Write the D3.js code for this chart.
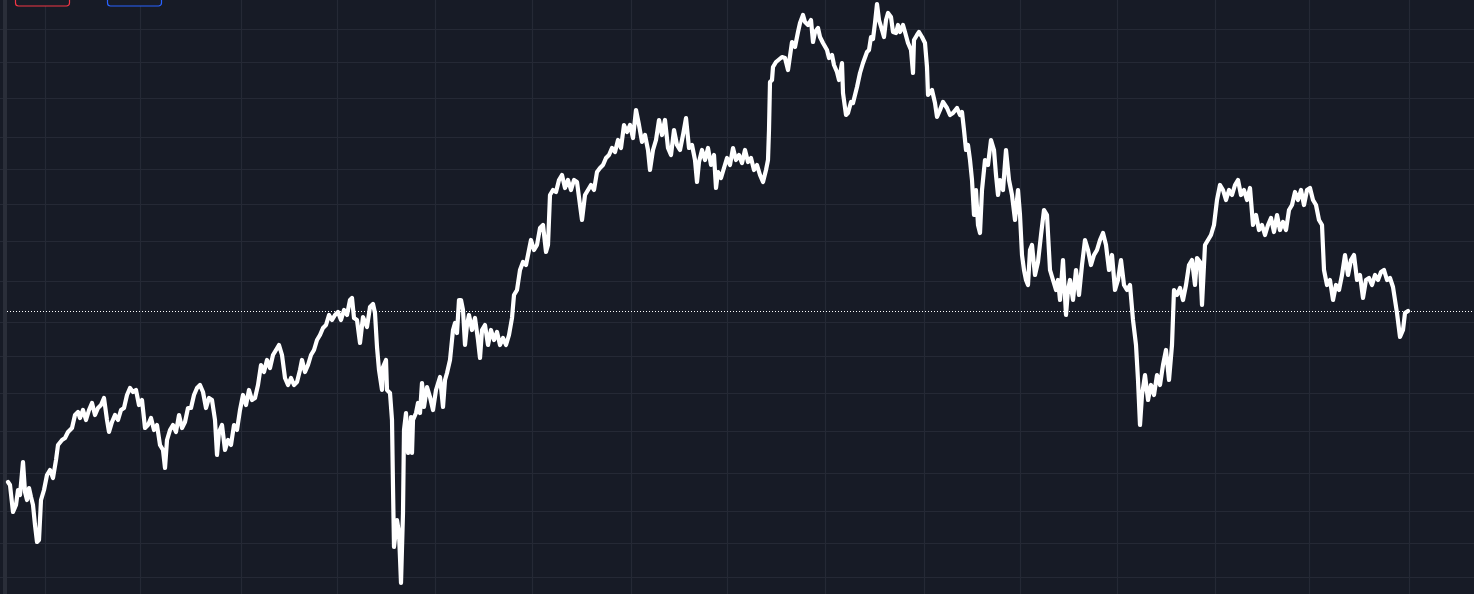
<!DOCTYPE html>
<html>
<head>
<meta charset="utf-8">
<script src="https://cdn.jsdelivr.net/npm/d3@7"></script>
<style>
  html, body { margin: 0; padding: 0; background: #171b26; overflow: hidden; }
  svg { display: block; }
</style>
</head>
<body>
<svg id="chart" width="1474" height="594"></svg>
<script>
// ---- data ----
const days = [
0,1,2.5,4,5,6,7.5,8.5,9.5,10.5,11.5,12.5,13.5,14.5,15.5,16.5,18,19.5,21,22.5,24,25,27,28.5,30,32,33.5,35,36,37.5,39,40.5,42,43.5,45,46.5,48,49.5,50.5,52,53.5,55,56.5,58,59.5,61,62.5,64,65.5,67,68.5,70,71.5,73,74.5,76,77.5,78.5,79.5,81,82.5,84,85.5,87,88.5,90,91.5,93,94.5,96,97.5,99,100.5,102,103.5,104.5,105.5,107,108.5,110,111.5,113,114.5,116,117.5,119,120.5,122,123.5,125,126.5,128,129.5,131,132.5,134,135.5,137,138.5,140,141.5,143,144.5,146,147,148.5,150,151.5,153,154.5,156,157.5,159,160.5,162,163.5,165,166.5,168,169.5,171,172,173,174.5,176,177.5,179.5,181,182.5,183.5,184.5,185.5,187,187.5,189,189.5,191,192,192.5,193,194.5,195.5,196.5,197.5,198,199,200,201.5,202,202.5,204,205,206,207,208,209.5,211,212.5,214,216,217.5,218.5,219.5,221,222.5,223.5,224.5,225.5,226.5,227.5,228.5,229.5,230.5,232,233.5,235,236,237,238.5,240,241.5,243,244.5,246,247.5,249,250.5,252,253,254.5,256,257.5,259,260,261.5,263,264.5,266,267.5,269,270,271,272.5,274,275.5,277,278.5,280,281.5,283,284.5,286,287,288.5,290,291.5,293,294.5,296,297.5,299,300.5,302,303.5,305,306.5,308,309.5,311,312.5,314,315.5,317,318.5,320,321,322.5,324,325.5,327,328.5,330,331.5,333,334.5,336,337.5,339,340.5,342,343.5,344.5,345.5,347,348.5,350,351.5,353,354,355,356.5,358,359.5,361,362.5,364,365.5,367,368.5,370,371.5,373,374.5,376,377.5,379,380,380.5,381,382,382.5,384,387,388.5,390,392,393.5,395,396,397.5,398.5,400,401.5,402.5,403.5,405,406,407.5,409.5,410.5,412,413,414.5,415.5,417,417.5,419,420,421.5,422.5,424.5,426,427.5,429.5,430.5,431.5,432.5,433.5,434.5,435.5,437,438,439,440,441.5,442.5,444,445,446,447.5,448.5,450,451.5,452.5,453,454.5,455.5,457,458.5,459.5,460,462,463.5,464.5,466,467.5,469.5,471,472.5,474.5,476,477,478,479,480,481,482,483,484,485,486,487,488.5,490,491.5,493,494,495,496,497.5,499,500.5,502,503.5,505,506,507,508,509,510,511,512,513.5,515,516.5,518,519.5,521,522.5,524,525,526,527.5,529,530,531,532.5,534,535.5,537,538.5,540,541.5,543,544.5,546,547.5,549,550.5,552,553.5,555,556.5,558,559.5,561,562.5,564,565,566,567,568.5,570,571.5,573,574.5,576,577.5,579,580.5,582,583,584.5,586,587.5,589,590.5,592,593.5,594.5,596,597,598.5,600,601.5,603,604.5,606,607.5,609,610.5,612,613.5,615,616.5,618,619.5,621,622.5,624,625.5,627,628.5,630,631.5,633,634.5,636,637.5,639,640.5,642,643.5,645,646.5,648,649.5,651,652.5,654,655.5,657,658,659.5,661,662.5,664,665.5,667,668.5,670,671.5,673,674.5,676,677.5,679,680.5,682,683.5,685,686.5,688,689.5,691,692.5,694.5,696,697.5,698.5,700
];
const prices = [
21.8,21.5,18.8,19.5,21.0,20.5,23.8,20.8,20.0,21.2,20.3,19.5,17.5,15.8,16.0,20.0,21.0,22.5,23.0,22.2,24.0,25.5,26.0,26.2,26.8,27.2,28.5,28.8,28.2,29.0,28.0,29.0,29.7,28.5,29.2,29.5,30.2,28.0,26.8,27.8,28.5,28.0,29.0,29.2,30.5,31.2,30.8,31.0,29.5,30.0,27.2,27.5,28.2,27.0,27.5,25.5,25.0,23.2,26.0,27.0,27.5,26.8,28.5,27.2,27.8,29.2,29.2,30.5,31.2,31.5,30.8,29.2,30.2,30.0,28.0,24.5,26.8,27.5,25.0,26.0,25.5,27.5,27.0,29.0,30.5,29.5,31.0,30.0,30.2,31.5,33.5,32.8,34.0,33.2,34.5,35.0,35.5,34.5,32.2,31.5,32.2,31.5,31.8,33.0,34.0,32.8,33.5,34.5,35.0,36.0,36.5,37.2,37.5,38.5,38.0,38.5,38.8,38.0,39.0,38.5,40.0,40.2,38.2,38.0,35.7,38.3,37.3,39.3,39.6,38.7,35.3,33.0,31.0,33.3,34.0,31.0,30.7,28.0,21.3,15.3,18.0,16.7,11.7,18.7,27.0,28.7,24.7,28.3,24.7,28.0,28.7,29.7,28.7,31.7,29.3,31.3,30.3,29.0,31.0,32.3,29.3,32.0,32.7,34.0,37.0,37.7,36.7,40.0,40.0,39.0,35.5,37.5,38.5,37.0,38.2,36.0,34.2,37.0,37.5,35.5,37.0,36.0,36.8,35.5,36.2,35.5,36.5,38.2,40.5,41.0,43.0,43.8,43.5,44.5,46.0,45.0,45.5,47.2,47.5,44.8,45.5,50.5,51.0,50.8,52.0,52.5,51.2,52.0,51.0,52.0,51.8,49.5,48.0,50.5,51.0,51.5,51.0,52.8,53.2,53.5,54.2,54.5,55.2,54.8,56.0,55.2,57.5,56.8,57.5,56.2,59.0,57.5,55.8,56.5,55.0,53.0,55.0,56.0,58.0,56.5,58.0,55.2,54.5,57.0,55.5,55.0,56.5,58.2,55.2,55.5,54.0,51.8,53.8,55.0,54.0,55.2,53.5,54.5,51.2,52.8,52.2,53.2,54.2,53.5,55.2,54.0,54.5,53.7,55.0,53.8,54.2,53.0,53.5,52.5,51.8,53.0,54.0,57.0,61.8,62.0,63.3,63.8,64.3,64.2,63.0,65.8,65.3,66.8,67.7,68.5,67.8,67.5,68.0,65.8,66.8,67.2,66.3,65.7,65.0,64.2,64.5,63.5,62.8,62.0,63.7,60.7,58.5,58.7,59.8,59.7,61.3,62.7,63.7,64.8,65.0,66.3,66.1,67.7,69.6,68.0,67.0,66.3,68.0,68.7,68.3,66.8,66.7,67.5,66.8,67.5,66.8,65.7,65.0,62.7,66.0,66.5,66.8,66.3,65.7,63.3,60.5,61.0,59.7,58.3,59.0,59.8,59.2,58.5,58.7,59.2,58.5,58.8,57.0,55.0,55.5,54.0,52.0,48.5,51.0,47.5,46.7,51.0,54.0,53.5,56.0,55.0,52.5,50.5,52.0,51.0,55.0,52.0,50.5,48.0,51.0,48.5,44.5,43.0,42.0,41.5,45.0,45.5,42.5,43.8,46.5,49.0,48.5,43.0,42.0,41.0,42.0,40.0,44.0,38.5,41.0,42.0,40.0,43.0,40.5,43.5,46.0,45.0,43.5,44.5,45.0,46.0,46.7,45.5,43.0,44.5,41.0,42.0,44.0,41.5,41.0,41.5,38.0,35.5,32.0,27.5,30.5,32.5,30.0,31.5,30.5,32.5,31.5,33.5,35.0,32.0,35.5,41.0,40.5,41.2,40.0,41.5,43.5,44.0,41.5,44.2,43.8,39.5,45.5,46.0,46.5,47.5,50.0,51.5,51.0,50.0,51.0,50.5,51.5,52.0,50.5,51.0,50.0,51.2,47.5,48.5,47.0,47.5,46.5,47.5,48.2,46.8,48.5,47.0,47.8,47.0,49.0,49.5,50.8,50.0,51.0,49.5,51.0,51.2,50.0,49.5,48.0,47.5,43.0,41.5,42.0,40.0,41.5,41.0,42.5,44.5,42.5,44.0,44.5,42.0,42.5,40.2,42.0,42.2,41.5,42.5,42.0,42.8,43.0,42.0,42.2,41.3,38.7,36.3,37.0,38.7,38.9
];
const timeTicks = [18.5, 66, 116.5, 164.5, 213.5, 262, 311.5, 359.5, 408.5, 458, 506, 554.5, 603.5, 650.5, 700.5];
const priceTicks = [67.1, 63.8, 60.2, 56.3, 53.1, 49.6, 45.9, 41.9, 37.8, 34.4, 30.7, 26.9, 22.7, 18.9, 15.7, 12.3];
const legendColors = ["#f23645", "#2962ff"];

// ---- layout ----
const W = 1474, H = 594;
const svg = d3.select("#chart");
const x = d3.scaleLinear().domain([0, 700]).range([8, 1408]);
const y = d3.scaleLinear().domain([10.6, 70]).range([594, 0]);

svg.append("rect").attr("width", W).attr("height", H).attr("fill", "#171b26");

// grid via axes
const gx = svg.append("g").attr("transform", `translate(0,${H})`)
  .call(d3.axisBottom(x).tickValues(timeTicks).tickSize(-H).tickFormat(""));
const gy = svg.append("g").attr("transform", `translate(0,0)`)
  .call(d3.axisRight(y).tickValues(priceTicks).tickSize(W).tickFormat(""));
[gx, gy].forEach(g => {
  g.select(".domain").remove();
  g.selectAll(".tick line").attr("stroke", "#252935").attr("stroke-width", 1.2);
});

// left edge strip
svg.append("rect").attr("x", 3).attr("y", 0).attr("width", 4).attr("height", H).attr("fill", "#2a2e39");

// legend boxes (clipped at top)
legendColors.forEach((c, i) => {
  svg.append("rect")
    .attr("x", 15.5 + i * 92).attr("y", -20).attr("width", 54).attr("height", 26)
    .attr("rx", 3).attr("fill", "#181c27").attr("stroke", c).attr("stroke-width", 1.2);
});

// last price dotted line
const last = prices[prices.length - 1];
svg.append("line")
  .attr("x1", 7).attr("x2", W)
  .attr("y1", Math.round(y(last)) + 0.5).attr("y2", Math.round(y(last)) + 0.5)
  .attr("stroke", "#ffffff").attr("stroke-width", 1).attr("stroke-dasharray", "1,2");

// main line
const data = days.map((d, i) => [d, prices[i]]);
svg.append("path")
  .datum(data)
  .attr("fill", "none")
  .attr("stroke", "#ffffff")
  .attr("stroke-width", 4.2)
  .attr("stroke-linejoin", "round")
  .attr("stroke-linecap", "round")
  .attr("d", d3.line().x(d => x(d[0])).y(d => y(d[1])));
</script>
</body>
</html>
